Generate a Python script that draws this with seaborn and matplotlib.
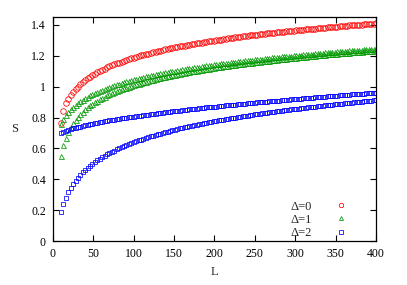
import matplotlib
matplotlib.use("Agg")
import matplotlib.pyplot as plt
import seaborn as sns
import pandas as pd

# ------------------------------------------------------------
# data (S vs L)
# ------------------------------------------------------------
L = [10, 13, 16, 19, 22, 25, 28, 31, 34, 37,
     40, 43, 46, 49, 52, 55, 58, 61, 64, 67,
     70, 73, 76, 79, 82, 85, 88, 91, 94, 97,
     100, 103, 106, 109, 112, 115, 118, 121, 124, 127,
     130, 133, 136, 139, 142, 145, 148, 151, 154, 157,
     160, 163, 166, 169, 172, 175, 178, 181, 184, 187,
     190, 193, 196, 199, 202, 205, 208, 211, 214, 217,
     220, 223, 226, 229, 232, 235, 238, 241, 244, 247,
     250, 253, 256, 259, 262, 265, 268, 271, 274, 277,
     280, 283, 286, 289, 292, 295, 298, 301, 304, 307,
     310, 313, 316, 319, 322, 325, 328, 331, 334, 337,
     340, 343, 346, 349, 352, 355, 358, 361, 364, 367,
     370, 373, 376, 379, 382, 385, 388, 391, 394, 397,
     400]

s_delta0 = [0.765, 0.845, 0.895, 0.922, 0.946, 0.966, 0.984, 1.000, 1.015, 1.029,
            1.041, 1.053, 1.064, 1.074, 1.083, 1.092, 1.101, 1.109, 1.116, 1.124,
            1.131, 1.137, 1.144, 1.150, 1.156, 1.162, 1.167, 1.173, 1.178, 1.183,
            1.188, 1.193, 1.197, 1.202, 1.206, 1.210, 1.214, 1.218, 1.222, 1.226,
            1.230, 1.233, 1.237, 1.241, 1.244, 1.247, 1.251, 1.254, 1.257, 1.260,
            1.263, 1.266, 1.269, 1.272, 1.275, 1.277, 1.280, 1.283, 1.285, 1.288,
            1.291, 1.293, 1.296, 1.298, 1.300, 1.303, 1.305, 1.307, 1.310, 1.312,
            1.314, 1.316, 1.318, 1.320, 1.323, 1.325, 1.327, 1.329, 1.331, 1.333,
            1.334, 1.336, 1.338, 1.340, 1.342, 1.344, 1.346, 1.347, 1.349, 1.351,
            1.353, 1.354, 1.356, 1.358, 1.359, 1.361, 1.363, 1.364, 1.366, 1.367,
            1.369, 1.370, 1.372, 1.373, 1.375, 1.376, 1.378, 1.379, 1.381, 1.382,
            1.384, 1.385, 1.386, 1.388, 1.389, 1.391, 1.392, 1.393, 1.395, 1.396,
            1.397, 1.398, 1.400, 1.401, 1.402, 1.404, 1.405, 1.406, 1.407, 1.408,
            1.410]

s_delta1_up = [0.760, 0.790, 0.814, 0.834, 0.852, 0.868, 0.881, 0.894, 0.906, 0.916,
               0.926, 0.935, 0.944, 0.952, 0.960, 0.967, 0.974, 0.981, 0.987, 0.993,
               0.999, 1.005, 1.010, 1.015, 1.020, 1.025, 1.030, 1.034, 1.039, 1.043,
               1.047, 1.051, 1.055, 1.059, 1.063, 1.066, 1.070, 1.073, 1.077, 1.080,
               1.083, 1.087, 1.090, 1.093, 1.096, 1.099, 1.102, 1.104, 1.107, 1.110,
               1.113, 1.115, 1.118, 1.120, 1.123, 1.125, 1.128, 1.130, 1.133, 1.135,
               1.137, 1.139, 1.142, 1.144, 1.146, 1.148, 1.150, 1.152, 1.154, 1.156,
               1.158, 1.160, 1.162, 1.164, 1.166, 1.168, 1.170, 1.172, 1.173, 1.175,
               1.177, 1.179, 1.180, 1.182, 1.184, 1.186, 1.187, 1.189, 1.190, 1.192,
               1.194, 1.195, 1.197, 1.198, 1.200, 1.201, 1.203, 1.204, 1.206, 1.207,
               1.209, 1.210, 1.212, 1.213, 1.214, 1.216, 1.217, 1.219, 1.220, 1.221,
               1.223, 1.224, 1.225, 1.227, 1.228, 1.229, 1.230, 1.232, 1.233, 1.234,
               1.235, 1.236, 1.238, 1.239, 1.240, 1.241, 1.242, 1.244, 1.245, 1.246,
               1.247]

s_delta1_low = [0.552, 0.619, 0.668, 0.705, 0.737, 0.763, 0.785, 0.805, 0.823, 0.838,
                0.852, 0.865, 0.878, 0.889, 0.900, 0.909, 0.918, 0.927, 0.935, 0.943,
                0.951, 0.958, 0.965, 0.971, 0.977, 0.983, 0.989, 0.994, 1.000, 1.005,
                1.010, 1.015, 1.020, 1.024, 1.029, 1.033, 1.037, 1.041, 1.046, 1.049,
                1.053, 1.057, 1.061, 1.064, 1.068, 1.071, 1.074, 1.077, 1.080, 1.084,
                1.087, 1.089, 1.093, 1.095, 1.098, 1.101, 1.104, 1.106, 1.110, 1.112,
                1.114, 1.116, 1.120, 1.122, 1.124, 1.126, 1.129, 1.131, 1.133, 1.135,
                1.138, 1.140, 1.142, 1.144, 1.146, 1.149, 1.151, 1.153, 1.154, 1.156,
                1.158, 1.161, 1.162, 1.164, 1.166, 1.168, 1.169, 1.171, 1.173, 1.175,
                1.177, 1.178, 1.180, 1.181, 1.183, 1.185, 1.187, 1.188, 1.190, 1.191,
                1.193, 1.194, 1.196, 1.197, 1.199, 1.201, 1.202, 1.204, 1.205, 1.206,
                1.208, 1.209, 1.210, 1.213, 1.214, 1.215, 1.216, 1.218, 1.219, 1.220,
                1.221, 1.222, 1.224, 1.226, 1.227, 1.228, 1.229, 1.231, 1.232, 1.233,
                1.234]

s_delta2_up = [0.700, 0.707, 0.713, 0.719, 0.724, 0.729, 0.733, 0.737, 0.741, 0.745,
               0.749, 0.753, 0.756, 0.760, 0.763, 0.766, 0.769, 0.772, 0.775, 0.778,
               0.781, 0.783, 0.786, 0.789, 0.791, 0.794, 0.796, 0.799, 0.801, 0.804,
               0.806, 0.808, 0.811, 0.813, 0.815, 0.817, 0.819, 0.822, 0.824, 0.826,
               0.828, 0.830, 0.832, 0.834, 0.836, 0.838, 0.840, 0.842, 0.843, 0.845,
               0.847, 0.849, 0.851, 0.853, 0.854, 0.856, 0.858, 0.860, 0.861, 0.863,
               0.865, 0.866, 0.868, 0.870, 0.871, 0.873, 0.875, 0.876, 0.878, 0.879,
               0.881, 0.882, 0.884, 0.886, 0.887, 0.889, 0.890, 0.892, 0.893, 0.895,
               0.896, 0.898, 0.899, 0.900, 0.902, 0.903, 0.905, 0.906, 0.908, 0.909,
               0.910, 0.912, 0.913, 0.915, 0.916, 0.917, 0.919, 0.920, 0.921, 0.923,
               0.924, 0.925, 0.927, 0.928, 0.929, 0.930, 0.932, 0.933, 0.934, 0.936,
               0.937, 0.938, 0.939, 0.941, 0.942, 0.943, 0.944, 0.946, 0.947, 0.948,
               0.949, 0.950, 0.952, 0.953, 0.954, 0.955, 0.956, 0.958, 0.959, 0.960,
               0.961]

s_delta2_low = [0.189, 0.240, 0.281, 0.315, 0.344, 0.369, 0.391, 0.411, 0.429, 0.445,
                0.461, 0.475, 0.488, 0.500, 0.512, 0.523, 0.534, 0.543, 0.553, 0.562,
                0.570, 0.579, 0.586, 0.594, 0.601, 0.608, 0.615, 0.622, 0.628, 0.634,
                0.640, 0.646, 0.652, 0.657, 0.662, 0.668, 0.673, 0.678, 0.682, 0.687,
                0.692, 0.696, 0.701, 0.705, 0.709, 0.713, 0.717, 0.721, 0.725, 0.729,
                0.732, 0.736, 0.740, 0.743, 0.747, 0.750, 0.753, 0.757, 0.760, 0.763,
                0.766, 0.769, 0.772, 0.775, 0.778, 0.781, 0.784, 0.787, 0.789, 0.792,
                0.795, 0.798, 0.800, 0.803, 0.805, 0.808, 0.810, 0.813, 0.815, 0.818,
                0.820, 0.822, 0.825, 0.827, 0.829, 0.831, 0.834, 0.836, 0.838, 0.840,
                0.842, 0.844, 0.846, 0.848, 0.850, 0.852, 0.854, 0.856, 0.858, 0.860,
                0.862, 0.864, 0.866, 0.868, 0.870, 0.871, 0.873, 0.875, 0.877, 0.878,
                0.880, 0.882, 0.884, 0.885, 0.887, 0.889, 0.890, 0.892, 0.894, 0.895,
                0.897, 0.898, 0.900, 0.901, 0.903, 0.905, 0.906, 0.908, 0.909, 0.911,
                0.912]

x_ticks = [0, 50, 100, 150, 200, 250, 300, 350, 400]
y_ticks = [0, 0.2, 0.4, 0.6, 0.8, 1.0, 1.2, 1.4]
y_ticklabels = ["0", "0.2", "0.4", "0.6", "0.8", "1", "1.2", "1.4"]

# series: (label, values, colour, marker, size)
series = [
    ("Δ=0", s_delta0, "#ff0000", "o", 4.0),
    ("Δ=1", s_delta1_up, "#009900", "^", 3.6),
    (None, s_delta1_low, "#009900", "^", 3.6),
    ("Δ=2", s_delta2_up, "#0000ff", "s", 2.8),
    (None, s_delta2_low, "#0000ff", "s", 2.8),
]

# ------------------------------------------------------------
# plot
# ------------------------------------------------------------
sns.set_style("ticks")
plt.rcParams["font.family"] = ["Liberation Serif", "DejaVu Serif"]

fig = plt.figure(figsize=(4.07, 2.85), dpi=100)
ax = fig.add_axes([0.130, 0.154, 0.794, 0.786])

for label, vals, col, mk, ms in series:
    df = pd.DataFrame({"L": L, "S": vals})
    sns.lineplot(data=df, x="L", y="S", ax=ax, estimator=None, sort=False,
                 linestyle="", marker=mk, markersize=ms,
                 markerfacecolor="none", markeredgecolor=col,
                 markeredgewidth=0.55, color=col, label=label)

ax.set_xlim(0, 400)
ax.set_ylim(0, 1.45)
ax.set_xticks(x_ticks)
ax.set_yticks(y_ticks)
ax.set_yticklabels(y_ticklabels)
ax.tick_params(direction="in", top=True, right=True, length=4, width=0.8,
               labelsize=8.5, pad=5, colors="black")
for sp in ax.spines.values():
    sp.set_linewidth(0.9)
    sp.set_color("black")

ax.set_xlabel("L", fontsize=9, labelpad=4)
ax.set_ylabel("S", fontsize=9, rotation=0, labelpad=12, va="center")

leg = ax.legend(loc="lower right", bbox_to_anchor=(0.937, -0.03), frameon=False,
                markerfirst=False, handlelength=1.0, handletextpad=1.8,
                labelspacing=0.1, fontsize=9, markerscale=0.8,
                borderaxespad=0.3)

fig.savefig("out.png", dpi=100)
